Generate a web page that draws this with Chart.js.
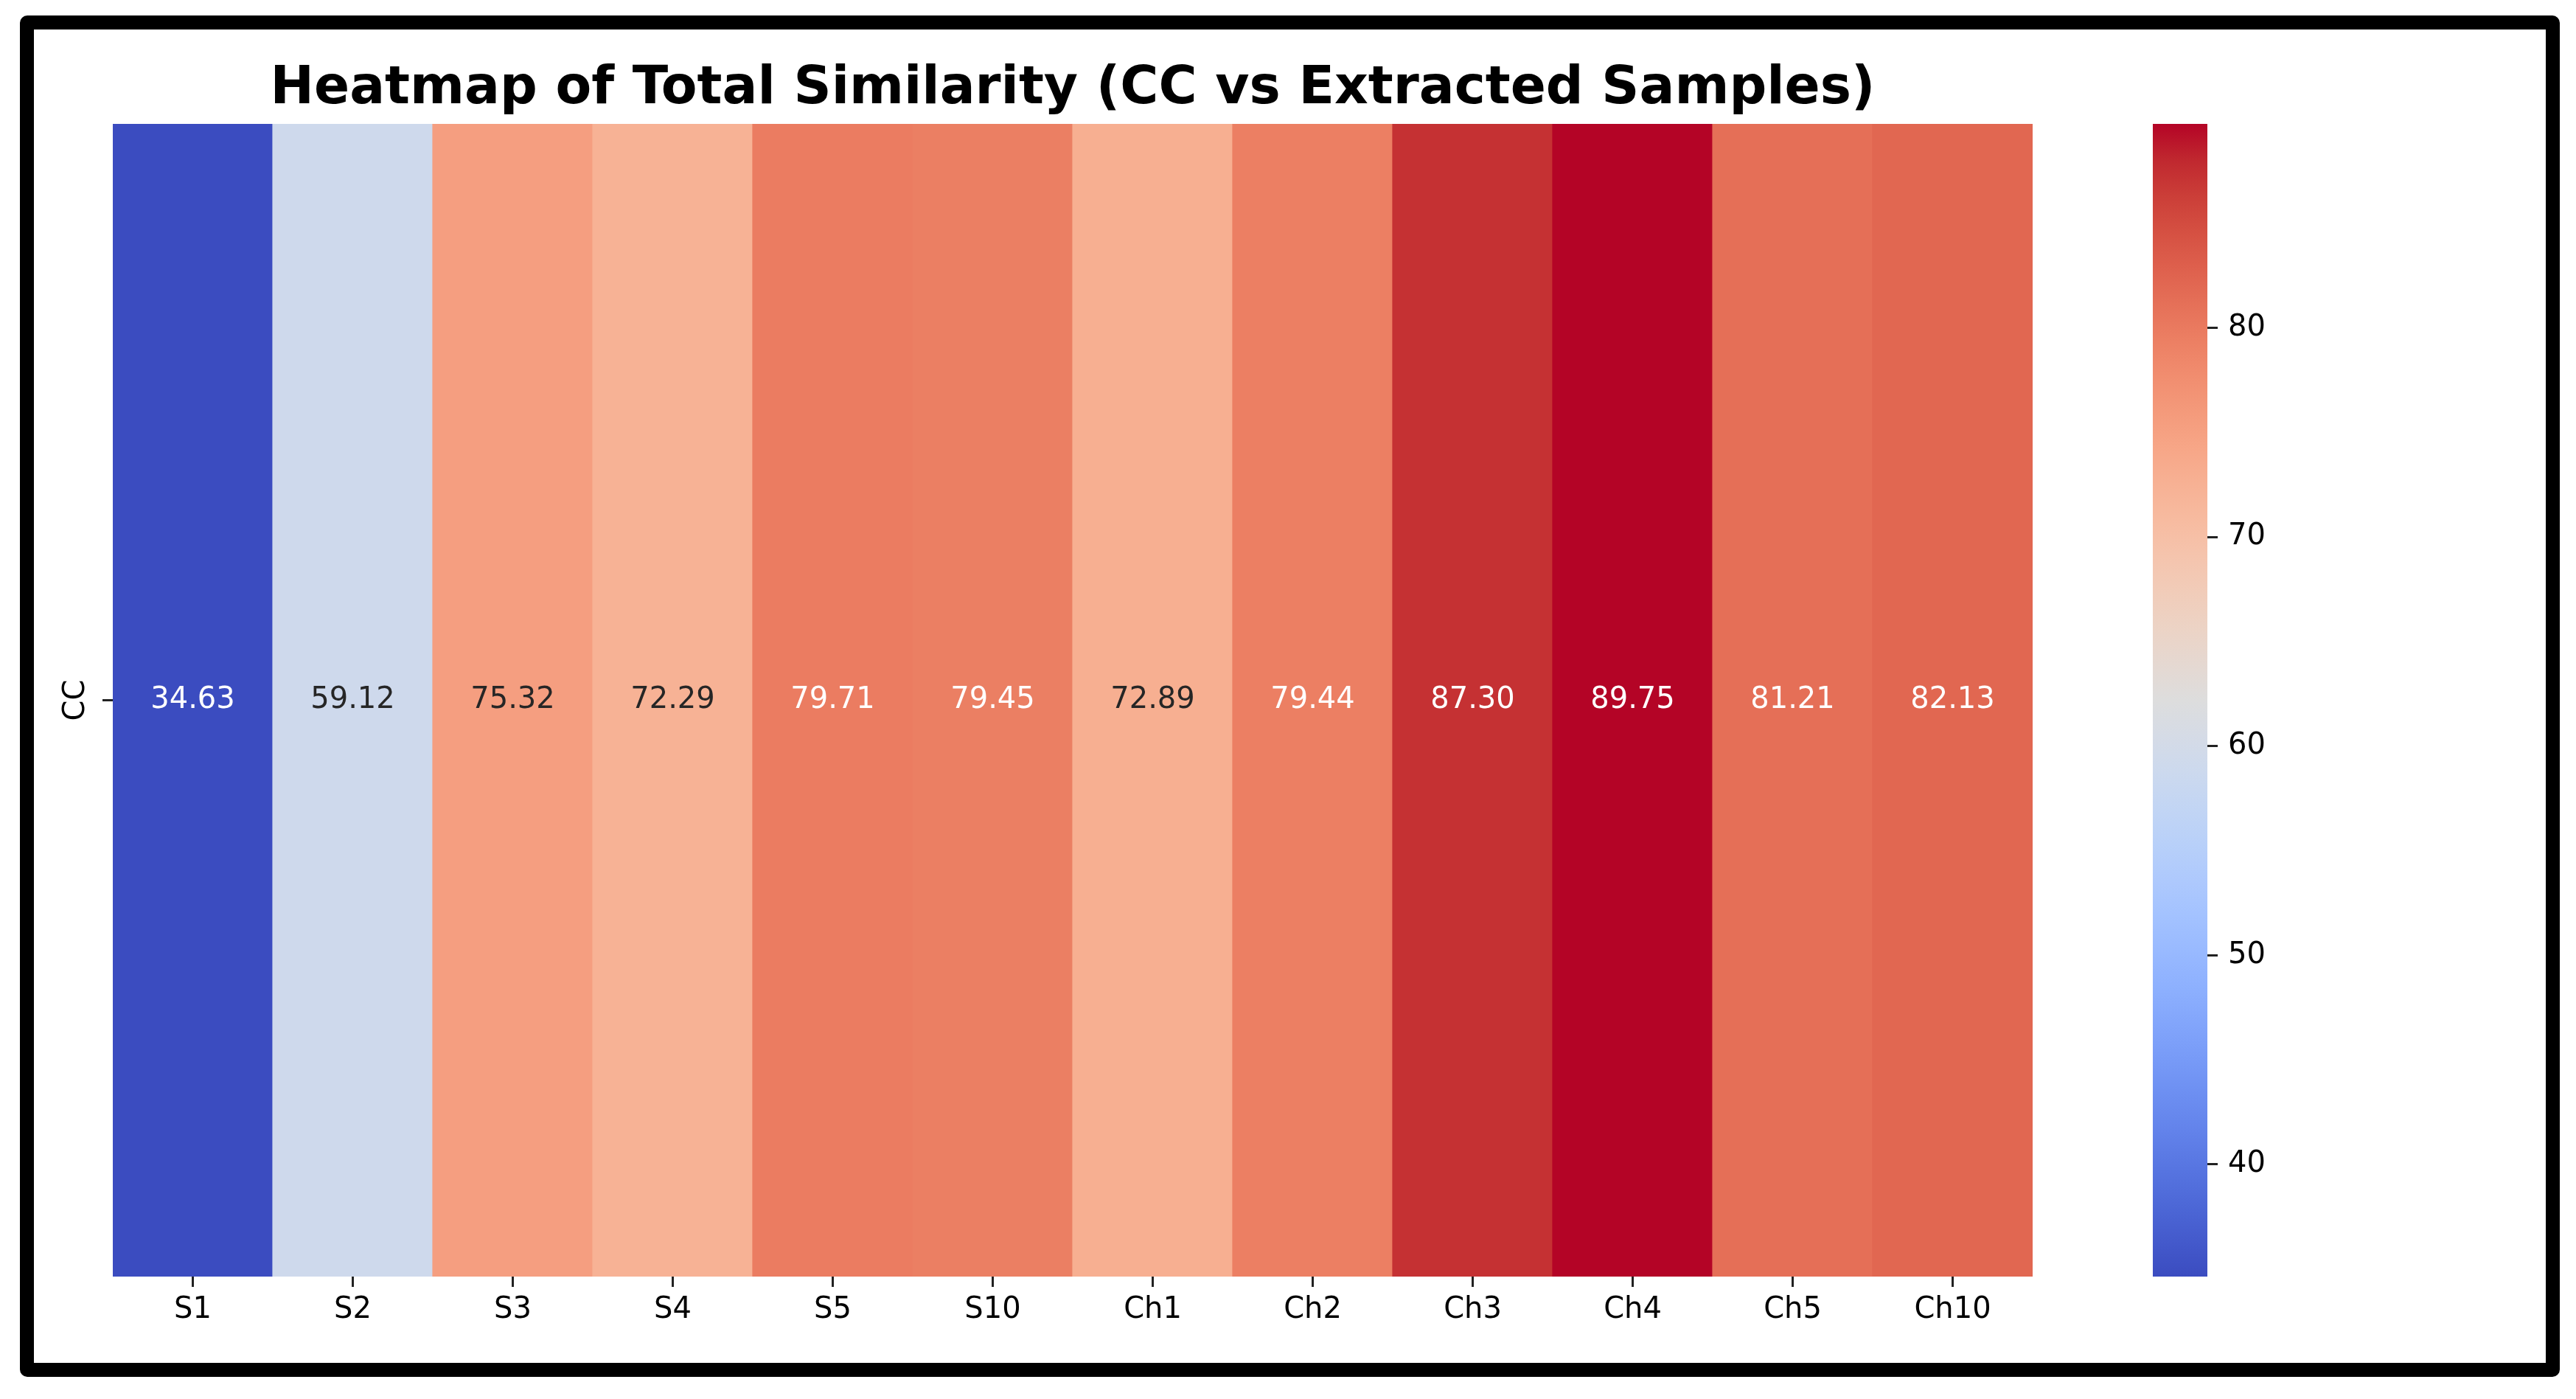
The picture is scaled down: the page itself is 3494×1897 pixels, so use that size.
<!DOCTYPE html>
<html>
<head>
<meta charset="utf-8">
<script src="https://cdn.jsdelivr.net/npm/chart.js@4.4.1/dist/chart.umd.min.js"></script>
<style>
  html, body { margin: 0; padding: 0; background: #ffffff; width: 3494px; height: 1897px; overflow: hidden; }
  #frame { position: absolute; left: 27px; top: 21px; width: 3445px; height: 1846px; box-sizing: border-box; border: 19px solid #000; border-radius: 10px; }
  #main { position: absolute; left: 60px; top: 0px; }
  #cbar { position: absolute; left: 2920px; top: 0px; }
</style>
</head>
<body>
<div id="frame"></div>
<canvas id="main" width="2790" height="1897"></canvas>
<canvas id="cbar" width="300" height="1897"></canvas>
<script>
// ---- data ----
const chartTitle = 'Heatmap of Total Similarity (CC vs Extracted Samples)';
const categories = ['S1', 'S2', 'S3', 'S4', 'S5', 'S10', 'Ch1', 'Ch2', 'Ch3', 'Ch4', 'Ch5', 'Ch10'];
const rowLabels = ['CC'];
const similarity = [34.63, 59.12, 75.32, 72.29, 79.71, 79.45, 72.89, 79.44, 87.30, 89.75, 81.21, 82.13];
const colorbarTicks = [40, 50, 60, 70, 80];

// ---- coolwarm colormap (matplotlib / Moreland table) ----
const coolwarmTable = [
  [0.0, 0.2298057, 0.298717966, 0.753683153],
  [0.03125, 0.26623388, 0.353094838, 0.801466763],
  [0.0625, 0.30386891, 0.406535296, 0.84495867],
  [0.09375, 0.342804478, 0.458757618, 0.883725899],
  [0.125, 0.38301334, 0.50941904, 0.917387822],
  [0.15625, 0.424369608, 0.558148092, 0.945619588],
  [0.1875, 0.46666708, 0.604562568, 0.968154911],
  [0.21875, 0.509635204, 0.648280772, 0.98478814],
  [0.25, 0.552953156, 0.688929332, 0.995375608],
  [0.28125, 0.596262162, 0.726149107, 0.999836203],
  [0.3125, 0.639176211, 0.759599947, 0.998151185],
  [0.34375, 0.681291281, 0.788964712, 0.990363227],
  [0.375, 0.722193294, 0.813952739, 0.976574709],
  [0.40625, 0.761464949, 0.834302879, 0.956945269],
  [0.4375, 0.798691636, 0.849786142, 0.931688648],
  [0.46875, 0.833466556, 0.860207984, 0.901068838],
  [0.5, 0.865395197, 0.86541021, 0.865395561],
  [0.53125, 0.897787179, 0.848937047, 0.820880546],
  [0.5625, 0.924127593, 0.827384882, 0.774508472],
  [0.59375, 0.944468518, 0.800927443, 0.726736146],
  [0.625, 0.958852946, 0.769767752, 0.678007945],
  [0.65625, 0.96732803, 0.734132809, 0.628751763],
  [0.6875, 0.969954137, 0.694266682, 0.579375448],
  [0.71875, 0.966811177, 0.650421156, 0.530263762],
  [0.75, 0.958003065, 0.602842431, 0.481775914],
  [0.78125, 0.943660866, 0.551750968, 0.434243684],
  [0.8125, 0.923944917, 0.49730856, 0.387970225],
  [0.84375, 0.89904617, 0.439559467, 0.343229596],
  [0.875, 0.869186849, 0.378313092, 0.300267182],
  [0.90625, 0.834620542, 0.312874446, 0.259301199],
  [0.9375, 0.795631745, 0.24128379, 0.220525627],
  [0.96875, 0.752534934, 0.157246067, 0.184115123],
  [1.0, 0.705673158, 0.01555616, 0.150232812]
];
function coolwarmRGB(t) {
  t = Math.max(0, Math.min(1, t));
  for (let i = 1; i < coolwarmTable.length; i++) {
    const a = coolwarmTable[i - 1], b = coolwarmTable[i];
    if (t <= b[0]) {
      const f = (t - a[0]) / (b[0] - a[0]);
      return [a[1] + f * (b[1] - a[1]), a[2] + f * (b[2] - a[2]), a[3] + f * (b[3] - a[3])];
    }
  }
  const l = coolwarmTable[coolwarmTable.length - 1];
  return [l[1], l[2], l[3]];
}
function rgbStr(c) {
  return 'rgb(' + c.map(v => Math.round(v * 255)).join(',') + ')';
}
const vmin = Math.min(...similarity);
const vmax = Math.max(...similarity);
function colorFor(v) { return coolwarmRGB((v - vmin) / (vmax - vmin)); }
function textColorFor(v) {
  const c = colorFor(v).map(x => x <= 0.03928 ? x / 12.92 : Math.pow((x + 0.055) / 1.055, 2.4));
  const lum = 0.2126 * c[0] + 0.7152 * c[1] + 0.0722 * c[2];
  return lum > 0.408 ? '#262626' : '#ffffff';
}

Chart.defaults.font.family = "'DejaVu Sans', sans-serif";
Chart.defaults.color = '#000000';

const annotatePlugin = {
  id: 'annotate',
  afterDatasetsDraw(chart) {
    const ctx = chart.ctx;
    const meta = chart.getDatasetMeta(0);
    ctx.save();
    ctx.font = "40px 'DejaVu Sans'";
    ctx.textAlign = 'center';
    ctx.textBaseline = 'middle';
    meta.data.forEach((bar, i) => {
      ctx.fillStyle = textColorFor(similarity[i]);
      ctx.fillText(similarity[i].toFixed(2), bar.x, (bar.y + bar.base) / 2);
    });
    ctx.restore();
  }
};

new Chart(document.getElementById('main'), {
  type: 'bar',
  data: {
    labels: categories,
    datasets: [{
      label: rowLabels[0],
      data: similarity.map(() => 1),
      backgroundColor: similarity.map(v => rgbStr(colorFor(v))),
      borderWidth: 0,
      barPercentage: 1,
      categoryPercentage: 1,
      inflateAmount: 0.6
    }]
  },
  options: {
    responsive: false,
    animation: false,
    devicePixelRatio: 1,
    layout: { padding: 0 },
    plugins: {
      legend: { display: false },
      tooltip: { enabled: false },
      title: {
        display: true,
        text: chartTitle,
        color: '#000000',
        font: { size: 71, weight: 'bold', family: "'DejaVu Sans'" },
        padding: { top: 79, bottom: 3.8 }
      }
    },
    scales: {
      x: {
        type: 'category',
        position: 'bottom',
        grid: { display: true, drawOnChartArea: false, drawTicks: true, offset: false, tickLength: 14, tickWidth: 3, tickColor: '#222222' },
        border: { display: false },
        ticks: { font: { size: 40 }, color: '#000000', padding: 8, maxRotation: 0, minRotation: 0, autoSkip: false },
        afterFit(s) { s.height = 166; }
      },
      y: {
        type: 'linear',
        position: 'left',
        min: 0,
        max: 1,
        afterBuildTicks(s) { s.ticks = [{ value: 0.5 }]; },
        grid: { display: true, drawOnChartArea: false, drawTicks: true, tickLength: 14, tickWidth: 3, tickColor: '#222222' },
        border: { display: false },
        ticks: { callback: () => '', padding: 0 },
        title: { display: true, text: rowLabels[0], font: { size: 40 }, color: '#000000', padding: { top: 19.5, bottom: 0 } },
        afterFit(s) { s.width = 93; }
      },
      yRight: {
        type: 'linear',
        position: 'right',
        display: true,
        grid: { display: false },
        border: { display: false },
        ticks: { display: false },
        afterFit(s) { s.width = 93; }
      }
    }
  },
  plugins: [annotatePlugin]
});

// ---- colorbar ----
new Chart(document.getElementById('cbar'), {
  type: 'bar',
  data: {
    labels: [''],
    datasets: [{
      data: [[vmin, vmax]],
      backgroundColor(ctx) {
        const area = ctx.chart.chartArea;
        if (!area) return null;
        const g = ctx.chart.ctx.createLinearGradient(0, area.bottom, 0, area.top);
        coolwarmTable.forEach(r => g.addColorStop(r[0], rgbStr([r[1], r[2], r[3]])));
        return g;
      },
      borderWidth: 0,
      barPercentage: 1,
      categoryPercentage: 1
    }]
  },
  options: {
    responsive: false,
    animation: false,
    devicePixelRatio: 1,
    layout: { padding: { top: 168, bottom: 166, left: 0, right: 0 } },
    plugins: { legend: { display: false }, tooltip: { enabled: false }, title: { display: false } },
    scales: {
      x: { display: false },
      y: {
        type: 'linear',
        position: 'right',
        min: vmin,
        max: vmax,
        afterBuildTicks(s) { s.ticks = colorbarTicks.map(v => ({ value: v })); },
        grid: { display: true, drawOnChartArea: false, drawTicks: true, tickLength: 14, tickWidth: 3, tickColor: '#222222' },
        border: { display: false },
        ticks: { font: { size: 40 }, color: '#000000', padding: 14, callback: v => String(v) },
        afterFit(s) { s.width = 226; }
      }
    }
  }
});
</script>
</body>
</html>
